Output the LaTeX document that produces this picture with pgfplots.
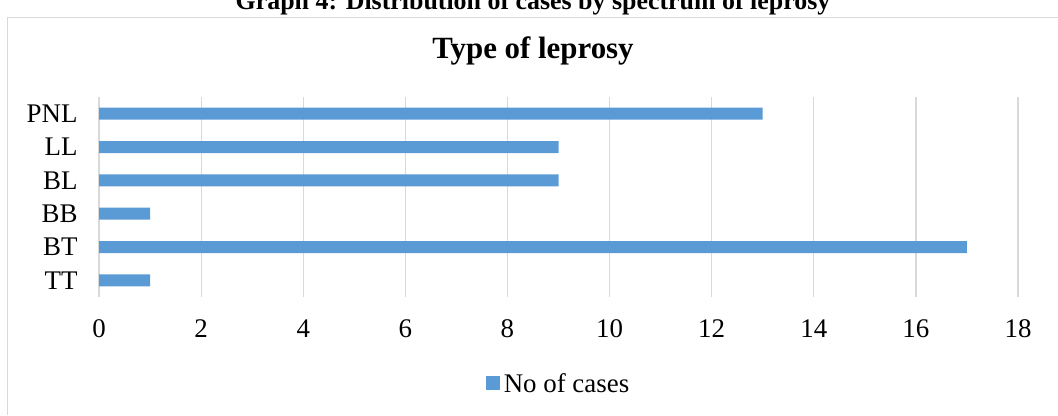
\documentclass[border=0pt]{standalone}
\usepackage{pgfplots}
\pgfplotsset{compat=1.18}
\usepackage{fontspec}
\setmainfont{Liberation Serif}
\definecolor{barblue}{HTML}{5B9BD5}
\definecolor{gridgray}{HTML}{D9D9D9}
\begin{document}
\begin{tikzpicture}[x=1bp,y=1bp]
\path[use as bounding box] (0,0) rectangle (1058,415);
\draw[gridgray, line width=1.2bp] (7.5,0) -- (7.5,397.5) -- (1070,397.5);
\node[font=\fontsize{26}{30}\selectfont\bfseries, anchor=base] at (533,405) {Graph 4: Distribution of cases by spectrum of leprosy};
\node[font=\fontsize{31}{36}\selectfont\bfseries] at (533,364) {Type of leprosy};
\begin{axis}[
  at={(99bp,118bp)}, anchor=south west,
  scale only axis, width=919bp, height=200bp,
  xmin=0, xmax=18, ymin=-0.5, ymax=5.5,
  xtick={0,2,...,18},
  ytick={0,1,2,3,4,5},
  yticklabels={TT,BT,BB,BL,LL,PNL},
  xmajorgrids, grid style={gridgray, line width=1.2bp},
  axis line style={draw=none},
  major tick length=0pt,
  tick label style={font=\fontsize{27}{30}\selectfont},
  /pgf/number format/assume math mode=true,
  xticklabel style={yshift=-19bp},
  yticklabel style={xshift=-18bp},
  xbar, bar width=12bp,
  legend style={draw=none, at={(0.5,-0.36)}, anchor=north, font=\fontsize{27}{30}\selectfont, legend cell align=left,
    /tikz/every even column/.append style={column sep=0pt}},
  legend image code/.code={\fill[barblue] (0bp,-7bp) rectangle (14bp,7bp);},
]
\addplot[fill=barblue, draw=none, bar shift=0pt] coordinates {(1,0) (17,1) (1,2) (9,3) (9,4) (13,5)};
\addlegendentry{\hspace{2bp}No of cases}
\end{axis}
\end{tikzpicture}
\end{document}
